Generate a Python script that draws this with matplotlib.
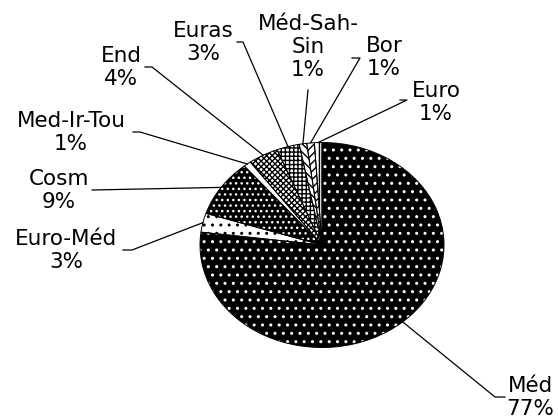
import matplotlib
matplotlib.use('Agg')
import matplotlib.pyplot as plt
import numpy as np

plt.rcParams['font.family'] = 'DejaVu Sans'
plt.rcParams['hatch.linewidth'] = 1.0

# chorological spectrum (%)
labels = ['Méd', 'Euro-Méd', 'Cosm', 'Med-Ir-Tou', 'End', 'Euras',
          'Méd-Sah-\nSin', 'Bor', 'Euro']
values = [77, 3, 9, 1, 4, 3, 1, 1, 1]

faces = ['black', 'white', 'black', 'white', 'white', 'white', 'white', 'white', 'white']
hatch_cols = ['white', 'black', 'white', 'black', 'black', 'black', 'black', 'black', 'black']
hatches = ['..', '..', '...', '', 'xxxxxx', '++++', '\\\\\\\\', '////', '|||']

# label layout in image pixels: text centre x, text top y, leader stub end (x, y)
text_pos = [(530, 376), (66, 229), (59, 169), (71, 111), (121, 46),
            (203, 21), (308, 14), (384, 36), (436, 81)]
stub = [[(505, 397), (495, 397)], [(123, 250), (132, 250)], [(92, 190)],
        [(133, 132), (140, 132)], [(145, 67), (152, 67)], [(237, 42), (243, 42)],
        [(308, 90)], [(352, 58), (360, 58)], [(400, 100), (407, 100)]]

W, H = 558, 418
cx, cy, rx, ry = 322, 245, 122, 102.5


def px(x, y):
    return (x - cx) / rx, (cy - y) / ry


fig = plt.figure(figsize=(W / 100, H / 100), dpi=100)
ax = fig.add_axes([0, 0, 1, 1])

wedges, _ = ax.pie(values, startangle=90, counterclock=False, radius=1,
                   wedgeprops={'linewidth': 0})
for w, f, hc, h in zip(wedges, faces, hatch_cols, hatches):
    w.set_facecolor(f)
    w.set_edgecolor(hc)
    w.set_hatch(h)

outline, _ = ax.pie(values, startangle=90, counterclock=False, radius=1,
                    wedgeprops={'fill': False, 'edgecolor': 'black', 'linewidth': 0.7})

for i, w in enumerate(wedges):
    mid = np.deg2rad((w.theta1 + w.theta2) / 2)
    ex, ey = np.cos(mid), np.sin(mid)
    pts = [px(*p) for p in stub[i]] + [(ex, ey)]
    ax.plot([p[0] for p in pts], [p[1] for p in pts], color='black', lw=0.9)
    tx, ty = px(*text_pos[i])
    ax.text(tx, ty, '%s\n%d%%' % (labels[i], values[i]), ha='center', va='top',
            fontsize=15.5, linespacing=1.2, multialignment='center')

ax.set_aspect('auto')
ax.set_xlim(-cx / rx, (W - cx) / rx)
ax.set_ylim((cy - H) / ry, cy / ry)
ax.axis('off')

fig.savefig('out.png', dpi=100)
